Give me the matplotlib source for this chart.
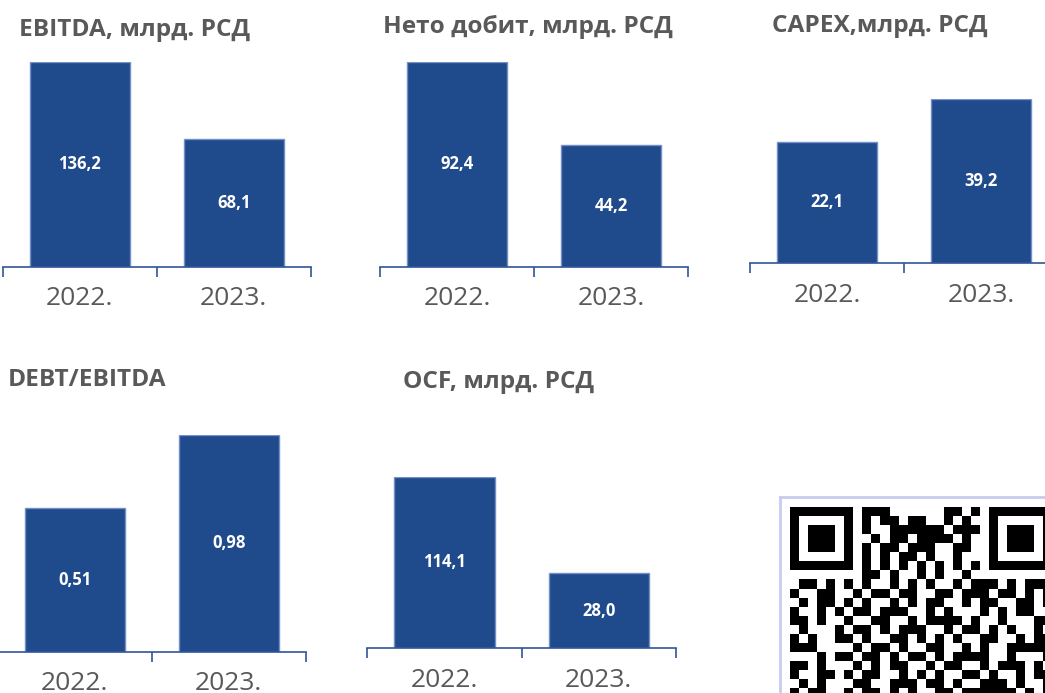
import numpy as np
import matplotlib.pyplot as plt

W, H = 1045, 693
plt.rcParams['font.family'] = ['Open Sans', 'DejaVu Sans']

# data
years = ['2022.', '2023.']
ebitda = [136.2, 68.1]
net_profit = [92.4, 44.2]
capex = [22.1, 39.2]
debt_ebitda = [0.51, 0.98]
ocf = [114.1, 28.0]

# QR code modules (visible part, '#' = black)
qr_rows = [
    "#######.###......##.#.#######",
    "#.....#.#.##.##..#.#..#.....#",
    "#.###.#.#..######.###.#.###.#",
    "#.###.#..#.##.####.#..#.###.#",
    "#.###.#.#.##.###..##..#.###.#",
    "#.....#.#.#.##.#..#...#.....#",
    "#######.#.#.#.#.#.#.#.#######",
    "........##.#..#.#..#.........",
    ".##.#.#.#..#.#.#..#.###.#.###",
    "#..##..#.##.##..##.###.##.#.#",
    ".#.##.#.#..#.#.##..#.##..##.#",
    "#..#.#.##.###..#.#...#.#.##..",
    "##.#..#..##..#.####.#..#...##",
    ".#...#.##.#.###..#.##.#.#..#.",
    "#.#..##.#..##.#.#.#..##..#.##",
    "###....#.##.#..##..#.#..#####",
    "...#.##.##.#.##.#.####..#...#",
    "##.#...#.#.##..#.##..#.###.#.",
    "#..##.#.##..#.#.#..##.#..#.##",
    ".#.#...##..###.##.#..###.#..#",
    "#.##..#.##.#.#..##.######.#.#",
]

BAR = '#1F4A8B'
EDGE = '#7391C8'
AXIS = '#2F5597'
GREY = '#595959'

# title, values, label format, axis x0/x1 px, axis line y px, top bar y px, axis floor, title x/y px
panels = [
    ('EBITDA, млрд. РСД', ebitda, '{:.1f}', 2.7, 310.7, 266.7, 61.7, -44.4, 19.3, 36),
    ('Нето добит, млрд. РСД', net_profit, '{:.1f}', 380, 688.3, 266.7, 61.7, -26.2, 383, 33),
    ('CAPEX,млрд. РСД', capex, '{:.1f}', 750, 1058, 263.3, 99.3, -26.95, 772, 31.7),
    ('DEBT/EBITDA', debt_ebitda, '{:.2f}', -2.3, 305.7, 651.7, 434.7, -0.417, 7.3, 386),
    ('OCF, млрд. РСД', ocf, '{:.1f}', 367.3, 676, 648.3, 476.7, -38.85, 403.3, 388.3),
]

fig = plt.figure(figsize=(W / 100, H / 100), dpi=100)

for title, vals, fmt, x0, x1, ybase, ytop, floor, tx, ty in panels:
    ax = fig.add_axes([x0 / W, 1 - ybase / H, (x1 - x0) / W, (ybase - ytop) / H])
    x = np.arange(len(years))
    heights = [v - floor for v in vals]
    ax.bar(x, heights, bottom=floor, width=0.65, color=BAR, edgecolor=EDGE, linewidth=1)
    ax.set_xlim(-0.5, 1.5)
    ax.set_ylim(floor, max(vals))
    for xi, v in zip(x, vals):
        ax.text(xi, (floor + v) / 2, fmt.format(v).replace('.', ','), ha='center', va='center',
                color='white', fontsize=12, fontweight='bold')
    for s in ['top', 'right', 'left']:
        ax.spines[s].set_visible(False)
    ax.spines['bottom'].set_color(AXIS)
    ax.spines['bottom'].set_linewidth(1.2)
    ax.set_yticks([])
    ax.set_xticks(x, years)
    ax.set_xticks([-0.5, 0.5, 1.5], minor=True)
    ax.tick_params(axis='x', which='major', length=0, pad=14, labelsize=19, labelcolor=GREY)
    ax.tick_params(axis='x', which='minor', length=7.2, width=1.2, color=AXIS, direction='out')
    ax.patch.set_alpha(0)
    fig.text(tx / W, 1 - ty / H, title, ha='left', va='baseline', fontsize=17.6,
             fontweight='bold', color=GREY)

# QR code box
qr = np.array([[1 if ch == '#' else 0 for ch in row] for row in qr_rows])
m = 9.05
qx = fig.add_axes([780 / W, 0, (W - 780) / W, (H - 497) / H])
qx.imshow(qr, cmap='gray_r', interpolation='nearest', aspect='auto',
          extent=(0, qr.shape[1], qr.shape[0], 0))
qx.set_xlim(-10 / m, (W - 790) / m)
qx.set_ylim((H - 507.3) / m, -10.3 / m)
qx.set_xticks([])
qx.set_yticks([])
for s in ['right', 'bottom']:
    qx.spines[s].set_visible(False)
for s in ['top', 'left']:
    qx.spines[s].set_color('#C9CBEE')
    qx.spines[s].set_linewidth(2)

fig.savefig('out.png', dpi=100)
